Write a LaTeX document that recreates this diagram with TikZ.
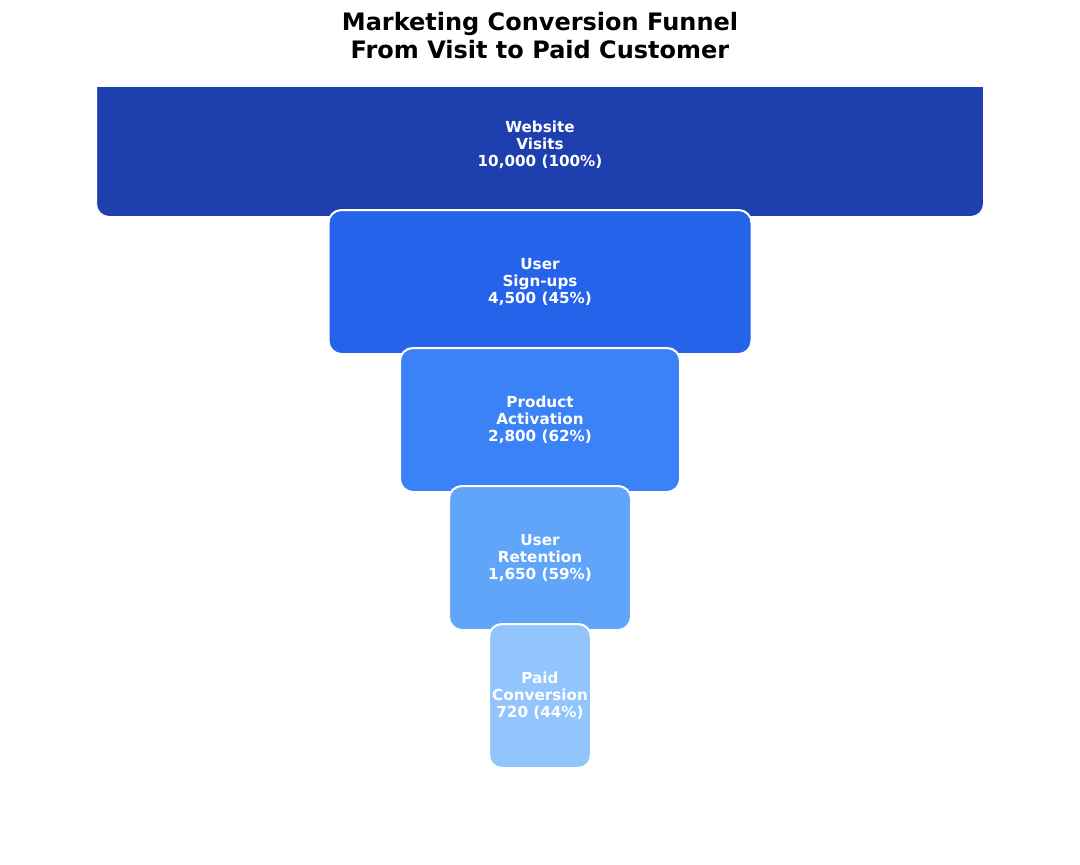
\documentclass[tikz,border=0pt]{standalone}
\usepackage{fontspec}
\setmainfont{DejaVu Sans}
\definecolor{b1}{HTML}{1E40AF}
\definecolor{b2}{HTML}{2563EB}
\definecolor{b3}{HTML}{3B82F6}
\definecolor{b4}{HTML}{60A5FA}
\definecolor{b5}{HTML}{93C5FD}
\tikzset{
  stage/.style={rectangle, rounded corners=13pt, draw=white, line width=2pt,
    minimum height=144pt, inner sep=0pt, text=white, align=center,
    font=\bfseries\fontsize{15.2}{17}\selectfont},
  titletext/.style={align=center, font=\bfseries\fontsize{24}{28}\selectfont, text=black}
}
\begin{document}
\begin{tikzpicture}[x=1pt,y=-1pt]
\useasboundingbox[fill=white] (0,0) rectangle (1080,865);
\node[titletext] (title) at (540,36) {Marketing Conversion Funnel\\From Visit to Paid Customer};
\begin{scope}
\clip (0,87) rectangle (1080,865);
\node[stage, fill=b1, minimum width=888pt] (s1) at (540,145) {Website\\Visits\\10,000 (100\%)};
\end{scope}
\node[stage, fill=b2, minimum width=423pt] (s2) at (540,282) {User\\Sign-ups\\4,500 (45\%)};
\node[stage, fill=b3, minimum width=280pt] (s3) at (540,420) {Product\\Activation\\2,800 (62\%)};
\node[stage, fill=b4, minimum width=182pt] (s4) at (540,558) {User\\Retention\\1,650 (59\%)};
\node[stage, fill=b5, minimum width=102pt] (s5) at (540,696) {Paid\\Conversion\\720 (44\%)};
\end{tikzpicture}
\end{document}
